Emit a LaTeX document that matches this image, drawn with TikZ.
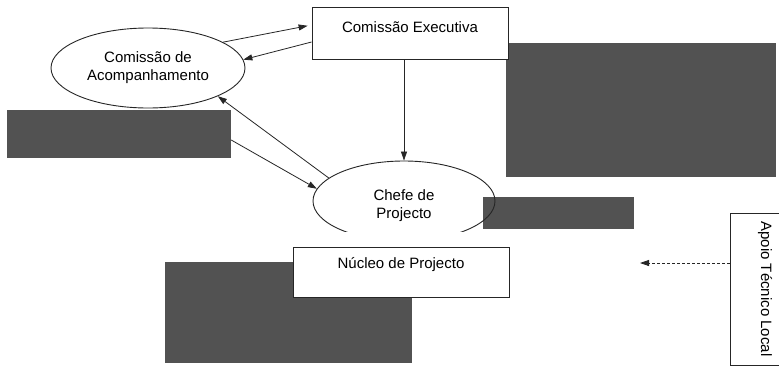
\documentclass[tikz,border=0pt]{standalone}
\usepackage{fontspec}
\setmainfont{Liberation Sans}
\usetikzlibrary{shapes.geometric,arrows.meta}
\tikzset{
  lbl/.style={font=\fontsize{15}{18}\selectfont},
  redact/.style={fill=black!68, draw=none, inner sep=0pt},
  box/.style={lbl, draw=black!85, fill=white, rectangle, inner sep=0pt, line width=0.9pt},
  oval/.style={lbl, draw=black!85, ellipse, inner sep=0pt, align=center, line width=0.9pt},
  conn/.style={draw=black!85, line width=0.8pt, -{Triangle[length=9pt,width=6pt]}}
}
\begin{document}
\begin{tikzpicture}[x=1pt,y=-1pt]
\useasboundingbox (0,0) rectangle (779,367);
\fill[white] (0,0) rectangle (779,367);
% redaction blocks
\node[redact, minimum width=270, minimum height=134] (rb1) at (641,110) {};
\node[redact, minimum width=224, minimum height=48] (lb) at (119,134) {};
\node[redact, minimum width=151, minimum height=32] (rb2) at (558.5,213) {};
\node[redact, minimum width=247, minimum height=101] (rb3) at (288.5,312.5) {};
% ellipses
\node[oval, minimum width=194, minimum height=80] (ca) at (148,68) {Comissão de\\Acompanhamento};
\node[oval, minimum width=182, minimum height=80] (ch) at (404,201) {\mbox{}\\[2pt]Chefe de\\Projecto};
\fill[white] (330,232) rectangle (480,247);
% boxes
\node[box, minimum width=196, minimum height=52, text height=11pt, text depth=12pt] (ce) at (410,33) {Comissão Executiva\hspace{16pt}};
\node[box, minimum width=216, minimum height=50, text height=11pt, text depth=18pt] (nu) at (401,272) {Núcleo de Projecto};
\node[box, minimum width=70, minimum height=152] (ap) at (765,289) {\rotatebox{-90}{Apoio Técnico Local}};
% connectors
\draw[conn, shorten >=4pt] (ca.19) -- ([yshift=8pt]ce.west);
\draw[conn] ([yshift=-9pt]ce.west) -- (ca.5);
\draw[conn] (ce.south -| ch.north) -- (ch.north);
\draw[conn] (ch.163) -- (ca.-22);
\draw[conn] ([yshift=-6pt]lb.east) -- (ch.172);
\coordinate (dend) at (640,263);
\draw[conn, densely dashed] ([yshift=26pt]ap.west) -- (dend);
\end{tikzpicture}
\end{document}
